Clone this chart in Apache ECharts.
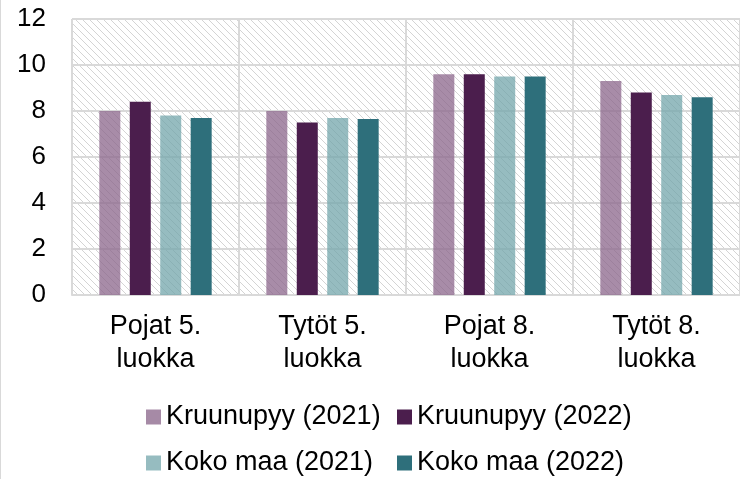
<!DOCTYPE html>
<html>
<head>
<meta charset="utf-8">
<script src="https://cdn.jsdelivr.net/npm/echarts@6/dist/echarts.min.js"></script>
<style>html,body{margin:0;padding:0;background:#fff}#c{width:740px;height:479px}</style>
</head>
<body>
<div id="c"></div>
<script>
const categories = ['Pojat 5. luokka', 'Tytöt 5. luokka', 'Pojat 8. luokka', 'Tytöt 8. luokka'];
const seriesNames = ['Kruunupyy (2021)', 'Kruunupyy (2022)', 'Koko maa (2021)', 'Koko maa (2022)'];
const kruunupyy2021 = [8.0, 8.0, 9.6, 9.3];
const kruunupyy2022 = [8.4, 7.5, 9.6, 8.8];
const kokoMaa2021 = [7.8, 7.7, 9.5, 8.7];
const kokoMaa2022 = [7.7, 7.65, 9.5, 8.6];
const yTicks = { min: 0, max: 12, interval: 2 };

const FONT = "'Liberation Sans', Arial, sans-serif";
const FS = 27;

// hatch pattern for plot background
const pc = document.createElement('canvas');
pc.width = 7; pc.height = 7;
const px = pc.getContext('2d');
px.fillStyle = '#ffffff'; px.fillRect(0, 0, 7, 7);
px.fillStyle = '#d4d4d4';
for (let y = 0; y < 7; y++) { px.fillRect(y, y, 1, 1); }

const colors = ['rgba(139,102,139,0.75)', '#4b1e4d', 'rgba(115,166,171,0.75)', '#2e6f7b'];
const legendColors = ['#a68aa6', '#4b1e4d', '#96bcc0', '#2e6f7b'];
const dataList = [kruunupyy2021, kruunupyy2022, kokoMaa2021, kokoMaa2022];

const chart = echarts.init(document.getElementById('c'), null, { renderer: 'canvas' });

const legendPos = [
  { left: 146, top: 403 }, { left: 397, top: 403 },
  { left: 146, top: 449 }, { left: 397, top: 449 }
];

chart.setOption({
  animation: false,
  backgroundColor: '#ffffff',
  textStyle: { fontFamily: FONT },
  grid: {
    show: true, left: 72, top: 19, width: 674, height: 276,
    backgroundColor: { image: pc, repeat: 'repeat' }, borderWidth: 0,
    containLabel: false
  },
  legend: seriesNames.map((n, i) => ({
    data: [{ name: n, itemStyle: { color: legendColors[i], opacity: 1 } }],
    left: legendPos[i].left, top: legendPos[i].top,
    itemWidth: 15, itemHeight: 15, itemGap: 6,
    icon: 'rect', padding: 0,
    textStyle: { fontSize: FS, color: '#000', fontFamily: FONT, lineHeight: 28, padding: [0, 0, 0, 0] }
  })),
  xAxis: {
    type: 'category', data: categories,
    axisLine: { show: true, lineStyle: { color: '#d9d9d9', width: 2 } },
    axisTick: { show: false },
    splitLine: { show: true, lineStyle: { color: '#d9d9d9', width: 2 } },
    axisLabel: {
      fontSize: FS, color: '#000', fontFamily: FONT, lineHeight: 33, margin: 15,
      formatter: v => v.replace(' luokka', '\nluokka')
    }
  },
  yAxis: {
    type: 'value', min: yTicks.min, max: yTicks.max, interval: yTicks.interval,
    axisLine: { show: false }, axisTick: { show: false },
    splitLine: { show: true, lineStyle: { color: '#d9d9d9', width: 2 } },
    axisLabel: { fontSize: 26, color: '#000', fontFamily: FONT, margin: 26 }
  },
  graphic: [{
    type: 'line', shape: { x1: 0.5, y1: 0, x2: 0.5, y2: 479 },
    style: { stroke: '#d9d9d9', lineWidth: 1 }, silent: true
  }],
  series: seriesNames.map((n, i) => ({
    name: n, type: 'bar', data: dataList[i],
    barWidth: 21, barGap: '45%',
    itemStyle: { color: colors[i] }
  }))
});
</script>
</body>
</html>
